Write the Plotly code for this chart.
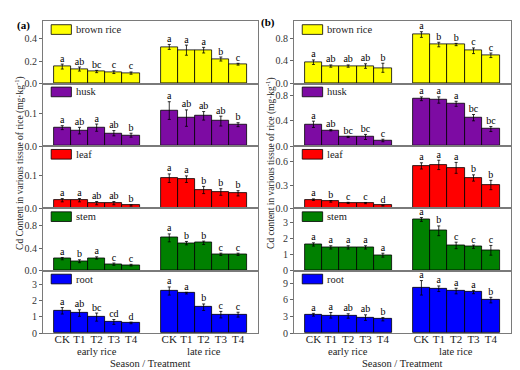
import plotly.graph_objects as go

treatments = ["CK", "T1", "T2", "T3", "T4"]
seasons = ["early rice", "late rice"]
tissues = ["brown rice", "husk", "leaf", "stem", "root"]

# ---- panel (a) ----
a_brown = [0.152, 0.130, 0.108, 0.102, 0.094, 0.327, 0.298, 0.298, 0.219, 0.173]
a_brown_err = [0.022, 0.018, 0.010, 0.012, 0.010, 0.022, 0.045, 0.025, 0.018, 0.008]
a_brown_let = ["a", "ab", "bc", "c", "c", "a", "a", "a", "b", "c"]
a_husk = [0.056, 0.047, 0.056, 0.039, 0.033, 0.108, 0.085, 0.092, 0.076, 0.065]
a_husk_err = [0.006, 0.010, 0.011, 0.008, 0.006, 0.027, 0.025, 0.013, 0.015, 0.006]
a_husk_let = ["a", "ab", "a", "ab", "b", "a", "ab", "ab", "ab", "b"]
a_leaf = [0.025, 0.025, 0.016, 0.016, 0.009, 0.092, 0.089, 0.056, 0.050, 0.046]
a_leaf_err = [0.005, 0.005, 0.005, 0.005, 0.002, 0.013, 0.010, 0.011, 0.010, 0.008]
a_leaf_let = ["a", "a", "ab", "ab", "b", "a", "a", "b", "b", "b"]
a_stem = [0.214, 0.168, 0.226, 0.116, 0.099, 0.580, 0.487, 0.493, 0.290, 0.290]
a_stem_err = [0.020, 0.025, 0.020, 0.020, 0.015, 0.070, 0.030, 0.030, 0.020, 0.020]
a_stem_let = ["a", "b", "a", "c", "c", "a", "b", "b", "c", "c"]
a_root = [1.38, 1.24, 0.99, 0.69, 0.63, 2.60, 2.47, 1.60, 1.14, 1.14]
a_root_err = [0.20, 0.20, 0.25, 0.15, 0.05, 0.25, 0.05, 0.20, 0.20, 0.15]
a_root_let = ["a", "ab", "bc", "cd", "d", "a", "a", "b", "c", "c"]

# ---- panel (b) ----
b_brown = [0.378, 0.310, 0.310, 0.310, 0.280, 0.866, 0.690, 0.690, 0.580, 0.500]
b_brown_err = [0.040, 0.020, 0.020, 0.040, 0.080, 0.050, 0.040, 0.020, 0.050, 0.040]
b_brown_let = ["a", "ab", "ab", "ab", "b", "a", "b", "b", "c", "c"]
b_husk = [0.345, 0.250, 0.144, 0.144, 0.088, 0.750, 0.730, 0.670, 0.450, 0.270]
b_husk_err = [0.050, 0.010, 0.010, 0.040, 0.020, 0.030, 0.050, 0.040, 0.050, 0.040]
b_husk_let = ["a", "ab", "bc", "bc", "c", "a", "a", "a", "bc", "bc"]
b_leaf = [0.112, 0.090, 0.070, 0.068, 0.037, 0.545, 0.558, 0.520, 0.390, 0.300]
b_leaf_err = [0.010, 0.010, 0.008, 0.008, 0.006, 0.040, 0.060, 0.070, 0.040, 0.060]
b_leaf_let = ["a", "b", "c", "c", "d", "a", "a", "a", "b", "b"]
b_stem = [1.62, 1.44, 1.44, 1.44, 0.96, 3.16, 2.46, 1.56, 1.48, 1.26]
b_stem_err = [0.10, 0.10, 0.10, 0.10, 0.12, 0.12, 0.30, 0.20, 0.10, 0.30]
b_stem_let = ["a", "a", "a", "a", "a", "a", "b", "c", "c", "c"]
b_root = [3.31, 3.20, 3.08, 2.79, 2.50, 8.14, 7.97, 7.56, 7.38, 5.93]
b_root_err = [0.25, 0.50, 0.40, 0.50, 0.30, 1.30, 0.50, 0.50, 0.30, 0.50]
b_root_let = ["a", "a", "ab", "ab", "b", "a", "a", "a", "a", "b"]

panels = [
    [(a_brown, a_brown_err, a_brown_let), (a_husk, a_husk_err, a_husk_let),
     (a_leaf, a_leaf_err, a_leaf_let), (a_stem, a_stem_err, a_stem_let),
     (a_root, a_root_err, a_root_let)],
    [(b_brown, b_brown_err, b_brown_let), (b_husk, b_husk_err, b_husk_let),
     (b_leaf, b_leaf_err, b_leaf_let), (b_stem, b_stem_err, b_stem_let),
     (b_root, b_root_err, b_root_let)],
]

# styles
colors = ["#FFFF00", "#7D0BA3", "#FF0000", "#008000", "#0000FF"]
y_ranges = [[0.555, 0.19, 0.19, 1.1, 3.85], [1.1, 0.99, 0.8, 3.84, 11.2]]
y_dticks = [[0.2, 0.1, 0.1, 0.4, 1], [0.4, 0.4, 0.3, 1, 3]]
y_formats = [[".1f", ".1f", ".1f", ".1f", "d"], [".1f", ".1f", ".1f", "d", "d"]]

W, H = 520, 370
FONT = "Liberation Serif"
GAP = 1.22
xs = [s * (5 + GAP) + i for s in range(len(seasons)) for i in range(len(treatments))]
ticktext = treatments * len(seasons)

col_px = [(35, 250), (286, 503)]
top_px, bot_px = 13.5, 330.5
row_h = (bot_px - top_px) / 5
x_rng = [-1.12, 4 + 5 + GAP + 1.16]

fig = go.Figure()
layout = dict(
    width=W, height=H, autosize=False,
    margin=dict(l=0, r=0, t=0, b=0),
    paper_bgcolor="white", plot_bgcolor="white",
    showlegend=False, bargap=0,
    font=dict(family=FONT, size=10, color="#222"),
)
shapes = []
annotations = []

for c in range(2):
    for r in range(5):
        k = c * 5 + r + 1
        means, errs, lets = panels[c][r]
        xa = "x" if k == 1 else f"x{k}"
        ya = "y" if k == 1 else f"y{k}"
        fig.add_trace(go.Bar(
            x=xs, y=means, width=1.0, xaxis=xa, yaxis=ya,
            marker=dict(color=colors[r], line=dict(color="black", width=0.8)),
            error_y=dict(type="data", array=errs, color="black", thickness=0.8, width=1.5),
            hoverinfo="skip",
        ))
        fig.add_trace(go.Scatter(
            x=xs, y=[m + e for m, e in zip(means, errs)], xaxis=xa, yaxis=ya,
            mode="text", text=lets, textposition="top center",
            textfont=dict(family=FONT, size=10, color="black"),
            cliponaxis=False, hoverinfo="skip",
        ))
        y_top = 1 - (top_px + r * row_h) / H
        y_bot = 1 - (top_px + (r + 1) * row_h) / H
        x0 = col_px[c][0] / W
        x1 = col_px[c][1] / W
        bottom = (r == 4)
        xdict = dict(
            domain=[x0, x1], anchor=ya, range=x_rng,
            tickvals=xs, ticktext=ticktext, showticklabels=bottom,
            ticks="", showgrid=False, zeroline=False,
            showline=True, mirror=True, linecolor="#7a7a7a", linewidth=1,
            tickfont=dict(family=FONT, size=11, color="#222"),
        )
        if bottom:
            xdict["ticklabelstandoff"] = -4
        layout["xaxis" if k == 1 else f"xaxis{k}"] = xdict
        layout["yaxis" if k == 1 else f"yaxis{k}"] = dict(
            domain=[y_bot, y_top], anchor=xa, range=[0, y_ranges[c][r]],
            dtick=y_dticks[c][r], tick0=0, tickformat=y_formats[c][r],
            ticks="outside", ticklen=3, tickcolor="#666",
            showgrid=False, zeroline=False,
            showline=True, mirror=True, linecolor="#7a7a7a", linewidth=1,
            tickfont=dict(family=FONT, size=10, color="#333"),
        )
        # legend box inside panel
        shapes.append(dict(
            type="rect", xref=f"{xa} domain", yref=f"{ya} domain",
            x0=0.038, x1=0.132, y0=0.79, y1=0.945,
            fillcolor=colors[r], line=dict(color="black", width=0.8),
        ))
        annotations.append(dict(
            xref=f"{xa} domain", yref=f"{ya} domain", x=0.145, y=0.868,
            text=tissues[r], showarrow=False, xanchor="left", yanchor="middle",
            font=dict(family=FONT, size=10.5, color="#222"),
        ))
    # season labels and axis title
    xa5 = f"x{c * 5 + 5}"
    for s, name in enumerate(seasons):
        annotations.append(dict(
            xref=xa5, yref="paper", x=s * (5 + GAP) + 2, y=1 - 349 / H,
            text=name, showarrow=False, xanchor="center", yanchor="middle",
            font=dict(family=FONT, size=10.5, color="#222"),
        ))
    annotations.append(dict(
        xref="paper", yref="paper", x=(col_px[c][0] + col_px[c][1]) / 2 / W, y=1 - 361 / H,
        text="Season / Treatment", showarrow=False, xanchor="center", yanchor="middle",
        font=dict(family=FONT, size=10.5, color="#222"),
    ))

annotations.append(dict(
    xref="paper", yref="paper", x=11.5 / W, y=1 - 158 / H, textangle=-90,
    text="Cd Content in various tissue of rice (mg·kg<sup>-1</sup>)", showarrow=False,
    xanchor="center", yanchor="middle", font=dict(family=FONT, size=9.5, color="#222"),
))
annotations.append(dict(
    xref="paper", yref="paper", x=262.5 / W, y=1 - 158 / H, textangle=-90,
    text="Cd content in various tissue of rice (mg·kg<sup>-1</sup>)", showarrow=False,
    xanchor="center", yanchor="middle", font=dict(family=FONT, size=9.5, color="#222"),
))
annotations.append(dict(
    xref="paper", yref="paper", x=15.5 / W, y=1 - 17.5 / H, text="<b>(a)</b>",
    showarrow=False, xanchor="center", yanchor="middle",
    font=dict(family=FONT, size=11, color="black"),
))
annotations.append(dict(
    xref="paper", yref="paper", x=260 / W, y=1 - 15 / H, text="<b>(b)</b>",
    showarrow=False, xanchor="center", yanchor="middle",
    font=dict(family=FONT, size=11, color="black"),
))

layout["shapes"] = shapes
layout["annotations"] = annotations
fig.update_layout(**layout)
fig.write_html("out.html")
